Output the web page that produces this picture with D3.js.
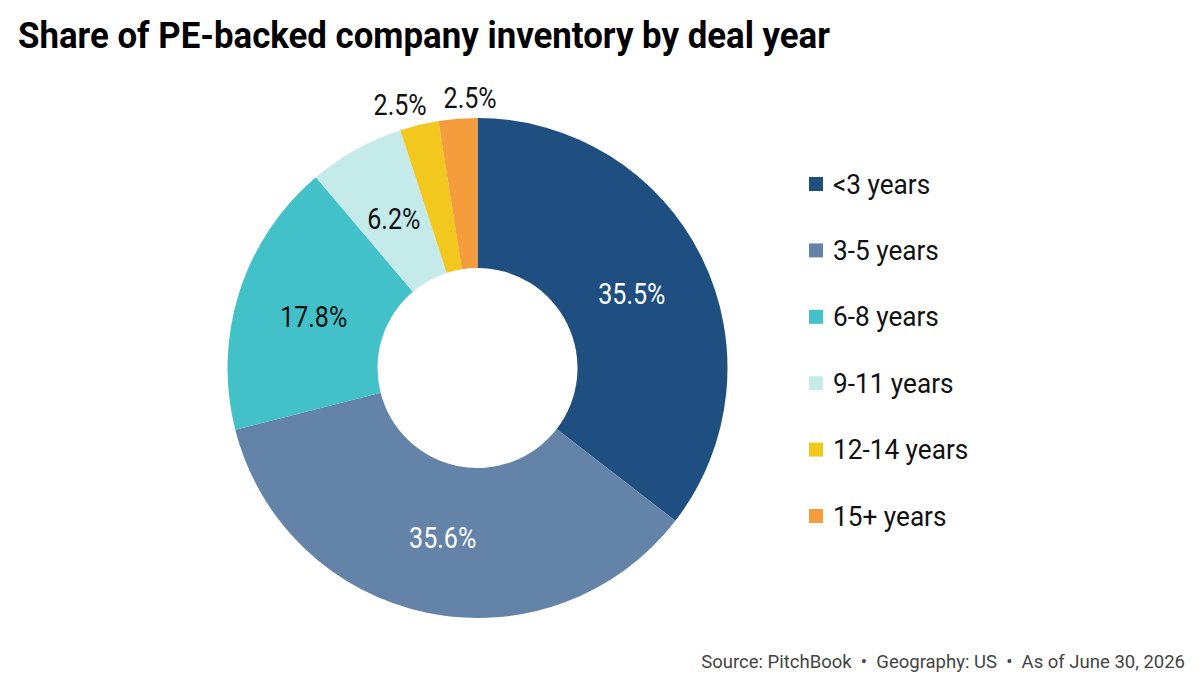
<!DOCTYPE html>
<html>
<head>
<meta charset="utf-8">
<script src="https://cdn.jsdelivr.net/npm/d3@7"></script>
<style>
  html, body { margin: 0; padding: 0; background: #fff; }
  svg { display: block; font-family: Roboto, "Noto Sans", sans-serif; }
</style>
</head>
<body>
<svg id="chart" width="1200" height="687"></svg>
<script>
const categories = ["<3 years", "3-5 years", "6-8 years", "9-11 years", "12-14 years", "15+ years"];
const values = [35.5, 35.6, 17.8, 6.2, 2.5, 2.5];
const colors = ["#1f4f80", "#6384a8", "#43c1c8", "#c4eaea", "#f3c81e", "#f59c3d"];
const labelColors = ["#ffffff", "#ffffff", "#111111", "#111111", "#111111", "#111111"];
const title = "Share of PE-backed company inventory by deal year";
const source = "Source: PitchBook  \u2022  Geography: US  \u2022  As of June 30, 2026";

const svg = d3.select("#chart");

svg.append("text")
  .attr("x", 18).attr("y", 48)
  .attr("font-size", 36).attr("font-weight", 700)
  .attr("fill", "#000")
  .attr("textLength", 812).attr("lengthAdjust", "spacingAndGlyphs")
  .text(title);

const cx = 477.5, cy = 368, outerR = 250, innerR = 100;
const g = svg.append("g").attr("transform", `translate(${cx},${cy})`);

const data = categories.map((c, i) => ({ cat: c, value: values[i], i }));
const pie = d3.pie().value(d => d.value).sort(null);
const arcs = pie(data);
const arc = d3.arc().innerRadius(innerR).outerRadius(outerR);
const labelArc = d3.arc().innerRadius(172).outerRadius(172);
const outArc = d3.arc().innerRadius(272).outerRadius(272);

g.selectAll("path.slice")
  .data(arcs)
  .join("path")
  .attr("class", "slice")
  .attr("d", arc)
  .attr("fill", d => colors[d.data.i]);

const labels = arcs.map(d => {
  const inside = d.data.value >= 5;
  const p = inside ? labelArc.centroid(d) : outArc.centroid(d);
  return { d, inside, x: p[0], y: p[1] };
});
const outs = labels.filter(l => !l.inside).sort((a, b) => a.x - b.x);
const minGap = 70;
for (let k = 1; k < outs.length; k++) {
  const gap = outs[k].x - outs[k - 1].x;
  if (gap < minGap) {
    const shift = (minGap - gap) / 2;
    outs[k - 1].x -= shift;
    outs[k].x += shift;
  }
}

g.selectAll("text.lbl")
  .data(labels)
  .join("text")
  .attr("class", "lbl")
  .attr("x", l => l.x)
  .attr("y", l => l.y + 1)
  .attr("text-anchor", "middle")
  .attr("dominant-baseline", "central")
  .attr("font-size", 30)
  .attr("fill", l => labelColors[l.d.data.i])
  .text(l => l.d.data.value.toFixed(1) + "%")
  .each(function () {
    const w = this.getComputedTextLength();
    d3.select(this).attr("textLength", w * 0.835).attr("lengthAdjust", "spacingAndGlyphs");
  });

const legendY = d3.scalePoint().domain(categories).range([184, 516]);
const lg = svg.append("g");
const items = lg.selectAll("g.item").data(data).join("g")
  .attr("class", "item")
  .attr("transform", d => `translate(809,${legendY(d.cat)})`);
items.append("rect")
  .attr("x", 0).attr("y", -7).attr("width", 14).attr("height", 14)
  .attr("fill", d => colors[d.i]);
items.append("text")
  .attr("x", 24).attr("y", 0)
  .attr("dominant-baseline", "central")
  .attr("font-size", 28)
  .attr("fill", "#111")
  .text(d => d.cat)
  .each(function () {
    const w = this.getComputedTextLength();
    d3.select(this).attr("textLength", w * 0.935).attr("lengthAdjust", "spacingAndGlyphs");
  });

svg.append("text")
  .attr("x", 1185).attr("y", 668)
  .attr("text-anchor", "end")
  .attr("font-size", 18.5)
  .attr("fill", "#444")
  .attr("xml:space", "preserve")
  .style("white-space", "pre")
  .text(source);
</script>
</body>
</html>
